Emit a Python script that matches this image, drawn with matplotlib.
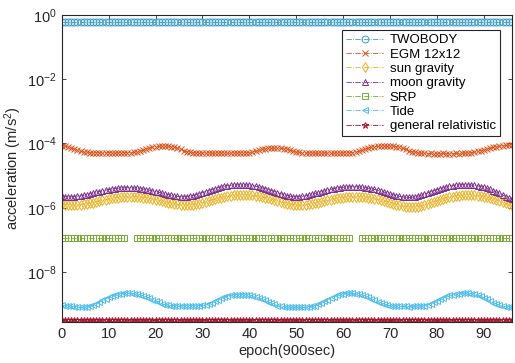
import numpy as np
import matplotlib
matplotlib.use("Agg")
import matplotlib.pyplot as plt
from matplotlib.ticker import NullLocator, LogFormatterSciNotation

plt.rcParams['font.family'] = ['Liberation Sans', 'DejaVu Sans']
plt.rcParams['mathtext.fontset'] = 'custom'
plt.rcParams['mathtext.rm'] = 'Liberation Sans'
plt.rcParams['mathtext.it'] = 'Liberation Sans:italic'

# epochs every 600 s, in units of 900 s
n = 145
epoch = np.arange(n) * 2.0 / 3.0

twobody = [0.6] * n

# units of 1e-5 m/s^2
egm = [8.5, 8.3, 7.8, 7.2, 6.6, 6.1, 5.7, 5.4, 5.3, 5.2,
       5.1, 5.2, 5.1, 5.0, 5.1, 5.2, 5.1, 5.0, 5.1, 5.2, 5.2, 5.1, 5.2, 5.3, 5.5, 5.8,
       6.2, 6.7, 7.2, 7.6, 7.9, 8.1, 8.3, 8.3, 8.2, 8.0, 7.6, 7.1, 6.5, 6.0,
       5.6, 5.3, 5.2, 5.1, 5.0, 5.1, 5.0, 5.1, 5.0, 4.9, 5.0, 5.1, 5.0, 4.9, 5.0, 5.1,
       5.0, 5.1, 5.2, 5.1, 5.2, 5.4, 5.7,
       6.1, 6.5, 6.8, 7.0, 7.1, 7.1, 7.0, 7.1, 6.9, 6.6, 6.2, 5.8, 5.5,
       5.3, 5.2, 5.1, 5.0, 5.1, 5.0, 4.9, 5.0, 5.1, 5.0, 4.9, 5.0, 5.1, 5.0, 5.1, 5.2,
       5.1, 5.2, 5.4, 5.7, 6.1, 6.6,
       7.1, 7.6, 7.9, 8.1, 8.3, 8.3, 8.2, 8.3, 8.2, 8.0, 7.6, 7.1, 6.5, 6.0, 5.6, 5.3,
       5.1, 5.0,
       4.9, 4.8, 4.9, 4.8, 4.7, 4.8, 4.9, 4.8, 4.7, 4.8, 4.9, 4.8, 4.9, 5.0, 5.0, 5.2,
       5.4,
       5.7, 6.0, 6.4, 6.8, 7.2, 7.6, 7.9, 8.2, 8.5, 8.7, 8.9, 9.0]

# units of 1e-6 m/s^2
sun = [1.28, 1.25, 1.22, 1.21, 1.2,
       1.21, 1.23, 1.27, 1.32, 1.38, 1.45, 1.53, 1.61, 1.70, 1.79, 1.87, 1.95, 2.02, 2.08, 2.13, 2.17, 2.19, 2.2,
       2.19, 2.17, 2.13, 2.08, 2.02, 1.95, 1.87, 1.79, 1.70, 1.61, 1.53, 1.45, 1.38, 1.32, 1.27, 1.23, 1.21, 1.2,
       1.21, 1.24, 1.29, 1.35, 1.43, 1.53, 1.63, 1.74, 1.85, 1.96, 2.07, 2.18, 2.27, 2.35, 2.41, 2.46, 2.49, 2.5,
       2.49, 2.46, 2.41, 2.35, 2.27, 2.18, 2.07, 1.96, 1.85, 1.74, 1.63, 1.53, 1.43, 1.35, 1.29, 1.24, 1.21, 1.2,
       1.21, 1.23, 1.27, 1.32, 1.38, 1.45, 1.53, 1.61, 1.70, 1.79, 1.87, 1.95, 2.02, 2.08, 2.13, 2.17, 2.19, 2.2,
       2.19, 2.16, 2.12, 2.07, 1.99, 1.91, 1.82, 1.73, 1.63, 1.52, 1.43, 1.34, 1.26, 1.19, 1.13, 1.08, 1.06, 1.05,
       1.06, 1.09, 1.15, 1.22, 1.31, 1.41, 1.53, 1.65, 1.78, 1.90, 2.02, 2.14, 2.24, 2.33, 2.40, 2.46, 2.49, 2.5,
       2.49, 2.45, 2.40, 2.32, 2.23, 2.13, 2.01, 1.88, 1.75, 1.62, 1.49, 1.38, 1.27, 1.18]

moon = [2.25, 2.22, 2.2, 2.2,
        2.22, 2.26, 2.33, 2.43, 2.56, 2.70, 2.86, 3.03, 3.20, 3.37, 3.54, 3.70, 3.84, 3.97, 4.07, 4.14, 4.18, 4.2,
        4.18, 4.14, 4.07, 3.97, 3.84, 3.70, 3.54, 3.37, 3.20, 3.03, 2.86, 2.70, 2.56, 2.43, 2.33, 2.26, 2.22, 2.2,
        2.22, 2.29, 2.40, 2.55, 2.74, 2.95, 3.19, 3.44, 3.70, 3.96, 4.21, 4.45, 4.66, 4.85, 5.00, 5.11, 5.18, 5.2,
        5.18, 5.11, 5.00, 4.85, 4.66, 4.45, 4.21, 3.96, 3.70, 3.44, 3.19, 2.95, 2.74, 2.55, 2.40, 2.29, 2.22, 2.2,
        2.22, 2.27, 2.35, 2.47, 2.61, 2.78, 2.96, 3.15, 3.35, 3.55, 3.74, 3.92, 4.09, 4.23, 4.35, 4.43, 4.48, 4.5,
        4.48, 4.43, 4.34, 4.22, 4.07, 3.90, 3.71, 3.51, 3.30, 3.09, 2.89, 2.70, 2.53, 2.38, 2.26, 2.17, 2.12, 2.1,
        2.12, 2.19, 2.31, 2.46, 2.65, 2.88, 3.12, 3.38, 3.65, 3.92, 4.18, 4.43, 4.65, 4.84, 5.00, 5.11, 5.18, 5.2,
        5.17, 5.09, 4.96, 4.78, 4.56, 4.30, 4.02, 3.71, 3.40, 3.09, 2.78, 2.50, 2.24, 2.02, 1.84]

srp = [1.15e-7] * n
srp_gaps = [21, 22, 23, 93, 94, 95]

# units of 1e-10 m/s^2
tide = [9.3, 9.0, 8.7, 8.5, 8.3, 8.2, 8.1, 8.1, 8.2,
        8.6, 9.3, 10.3, 11.6, 13.1, 14.7, 16.3, 17.8, 19.2, 20.3, 21.2, 21.8, 22.0,
        21.8, 21.3, 20.6, 19.7, 18.5, 17.1, 15.6, 14.0, 12.6, 11.4, 10.4, 9.7, 9.3, 9.1, 9.0,
        8.9, 9.0, 8.9, 8.8, 8.9, 9.0, 8.9, 9.0, 9.2,
        9.6, 10.3, 11.3, 12.5, 13.9, 15.3, 16.6, 17.8, 18.8, 19.5, 19.9, 20.0,
        19.8, 19.4, 18.8, 18.0, 17.0, 15.8, 14.5, 13.1, 11.8, 10.7, 9.8, 9.1, 8.6, 8.3, 8.1,
        8.0, 8.1, 8.0, 7.9, 8.0, 8.1, 8.2, 8.5,
        9.0, 9.8, 10.9, 12.3, 13.9, 15.6, 17.3, 18.8, 20.1, 21.1, 21.7, 22.0,
        21.8, 21.3, 20.5, 19.4, 18.1, 16.6, 15.0, 13.4, 12.0, 10.8, 9.9, 9.3, 8.9, 8.7, 8.6,
        8.5, 8.6, 8.5, 8.4, 8.5, 8.6, 8.5, 8.7, 9.0,
        9.5, 10.3, 11.4, 12.7, 14.2, 15.8, 17.4, 18.8, 20.0, 20.9, 21.5, 21.9, 22.0,
        21.8, 21.2, 20.3, 19.1, 17.6, 16.0, 14.3, 12.7, 11.3, 10.2, 9.3, 8.7, 8.3, 8.1, 8.0]

genrel = [3.3e-10] * n

labels = ['TWOBODY', 'EGM 12x12', 'sun gravity', 'moon gravity', 'SRP', 'Tide',
          'general relativistic']
colors = ['#3a9cc8', '#d95319', '#edb120', '#7e2f8e', '#77ac30', '#4dbeee', '#a2142f']
markers = ['o', 'x', 'd', '^', 's', '<', '*']

srp_arr = np.array(srp)
srp_arr[srp_gaps] = np.nan
series = [np.array(twobody), np.array(egm) * 1e-5, np.array(sun) * 1e-6,
          np.array(moon) * 1e-6, srp_arr, np.array(tide) * 1e-10, np.array(genrel)]

fig = plt.figure(figsize=(5.15, 3.63), dpi=100)
ax = fig.add_axes([0.120, 0.113, 0.874, 0.846])

for y, lab, c, m in zip(series, labels, colors, markers):
    ax.semilogy(epoch, y, linestyle='-.', linewidth=0.6, color=c, marker=m,
                markersize=5, fillstyle='none', markeredgewidth=0.7, label=lab)

ax.set_xlim(0, 96)
ax.set_ylim(2.8e-10, 1)
ax.set_xticks(np.arange(0, 91, 10))
ax.set_yticks([1e-8, 1e-6, 1e-4, 1e-2, 1e0])
ax.yaxis.set_minor_locator(NullLocator())
ax.yaxis.set_major_formatter(LogFormatterSciNotation())
ax.tick_params(direction='in', top=True, right=True, length=3, width=0.6,
               labelsize=10.5, colors='#262626')
for s in ax.spines.values():
    s.set_linewidth(0.8)
    s.set_color('#262626')

ax.set_xlabel('epoch(900sec)', fontsize=10.5, color='#262626', labelpad=2)
ax.set_ylabel('acceleration (m/s$^2$)', fontsize=10.5, color='#262626', labelpad=2)

leg = ax.legend(loc='upper right', bbox_to_anchor=(500 / 515, 1 - 30 / 363),
                bbox_transform=fig.transFigure, borderaxespad=0, fontsize=9.5,
                labelspacing=0.16, handlelength=2.8, handletextpad=0.5,
                fancybox=False, framealpha=1, edgecolor='#262626', borderpad=0.3)
leg.get_frame().set_linewidth(0.8)

fig.savefig('out.png', dpi=100)
